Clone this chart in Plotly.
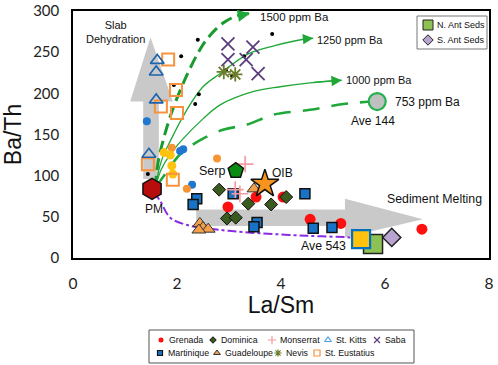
import plotly.graph_objects as go

# ---------------- data ----------------
grenada_x = [2.98, 3.52, 4.04, 4.56, 5.15, 6.71]
grenada_y = [62, 74, 74, 47, 42, 35]
dominica_x = [2.81, 3.37, 3.81, 2.96, 3.13, 4.10]
dominica_y = [83, 66, 65, 48, 49, 74]
monserrat_x = [3.31, 3.12, 3.21]
monserrat_y = [114, 83, 78]
stkitts_x = [1.62, 1.60, 1.60, 1.46]
stkitts_y = [240, 226, 192, 126]
saba_x = [2.98, 3.46, 2.98, 3.33, 3.56]
saba_y = [260, 256, 241, 241, 224]
martinique_x = [2.38, 2.31, 3.08, 3.54, 3.48, 4.46, 4.62, 4.98]
martinique_y = [72, 65, 78, 43, 38, 78, 36, 37]
guadeloupe_x = [2.44, 2.50, 2.60, 2.42, 3.48]
guadeloupe_y = [42, 37, 35, 34, 84]
nevis_x = [2.90, 3.12]
nevis_y = [226, 223]
steust_x = [1.83, 1.98, 1.69, 2.00, 1.44, 1.92]
steust_y = [241, 204, 184, 176, 114, 95]

black_x = [1.44, 1.94, 2.08, 2.35, 2.42, 2.40, 2.94, 3.06, 3.29, 3.83]
black_y = [102, 210, 245, 187, 199, 265, 228, 221, 245, 272]
blue_x = [1.42, 2.12, 2.06, 2.29]
blue_y = [166, 132, 130, 89]
orange_x = [1.90, 2.19, 2.77]
orange_y = [134, 84, 121]
yellow_x = [1.75, 1.87, 1.90, 1.92]
yellow_y = [128, 125, 112, 102]

pm_x, pm_y = [1.52], [84]
serp_x, serp_y = [3.13], [106]
oib_x, oib_y = [3.69], [90]
ave144_x, ave144_y = [5.85], [190]
ave543_x, ave543_y = [5.54], [23]
nant_x, nant_y = [5.77], [17]
sant_x, sant_y = [6.13], [25]

# mixing curves
c1500_x = [1.58, 1.63, 1.73, 1.92, 2.19, 2.44, 2.63, 2.90, 3.15, 3.40]
c1500_y = [85, 114, 142, 181, 222, 253, 270, 286, 294, 297]
c1250_x = [1.58, 1.70, 1.87, 2.19, 2.50, 2.83, 3.37, 3.88, 4.46, 4.62]
c1250_y = [85, 118, 142, 180, 208, 224, 248, 258, 266, 267]
c1000_x = [1.58, 1.70, 1.87, 2.12, 2.50, 2.83, 3.46, 3.98, 4.60, 5.17]
c1000_y = [85, 108, 126, 145, 169, 186, 202, 208, 213, 216]
c753_x = [1.58, 1.75, 2.06, 2.31, 2.50, 2.90, 3.35, 3.85, 4.56, 5.20, 5.72]
c753_y = [85, 100, 126, 138, 145, 156, 162, 174, 180, 187, 190]
csed_x = [1.55, 1.67, 1.87, 2.20, 2.58, 3.00, 3.60, 4.50, 5.33, 5.50]
csed_y = [80, 70, 49, 40, 36, 33, 30, 27, 25, 24]

legend_names = ["Grenada", "Dominica", "Monserrat", "St. Kitts", "Saba",
                "Martinique", "Guadeloupe", "Nevis", "St. Eustatius"]

# ---------------- styles ----------------
LABEL_FONT = "Liberation Sans, Arial, sans-serif"
GREEN = "#1fa838"
styles = {
    "Grenada": dict(symbol="circle", color="#ff1010", size=11, line=dict(width=0)),
    "Dominica": dict(symbol="diamond", color="#3b5a1f", size=10, line=dict(width=1, color="#111")),
    "Monserrat": dict(symbol="cross-thin-open", color="#f39aa2", size=12, line=dict(width=1.6, color="#f39aa2")),
    "St. Kitts": dict(symbol="triangle-up-open", color="#1c64ad", size=12, line=dict(width=1.6, color="#1c64ad")),
    "Saba": dict(symbol="x-thin-open", color="#5b3f7d", size=13, line=dict(width=1.8, color="#5b3f7d")),
    "Martinique": dict(symbol="square", color="#1873c6", size=10, line=dict(width=1.5, color="#111")),
    "Guadeloupe": dict(symbol="triangle-up", color="#f4a04a", size=12, line=dict(width=1, color="#333")),
    "Nevis": dict(symbol="asterisk-open", color="#6b7d2b", size=12, line=dict(width=1.8, color="#6b7d2b")),
    "St. Eustatius": dict(symbol="square-open", color="#f7933c", size=12, line=dict(width=2, color="#f7933c")),
}
series = {
    "Grenada": (grenada_x, grenada_y), "Dominica": (dominica_x, dominica_y),
    "Monserrat": (monserrat_x, monserrat_y), "St. Kitts": (stkitts_x, stkitts_y),
    "Saba": (saba_x, saba_y), "Martinique": (martinique_x, martinique_y),
    "Guadeloupe": (guadeloupe_x, guadeloupe_y), "Nevis": (nevis_x, nevis_y),
    "St. Eustatius": (steust_x, steust_y),
}

TOP = 11  # top margin in px
fig = go.Figure()

# gray process arrows
GRAY = "#c9c9c9"
fig.add_shape(type="path", xref="x", yref="y", layer="below", line=dict(width=0), fillcolor=GRAY,
              path="M 1.35 96 L 1.35 190 L 1.10 190 L 1.49 268 L 1.92 190 L 1.65 190 L 1.65 96 Z")
fig.add_shape(type="path", xref="x", yref="y", layer="below", line=dict(width=0), fillcolor=GRAY,
              path="M 2.37 59 L 5.23 59 L 5.23 72 L 6.73 47 L 5.23 25 L 5.23 39 L 2.37 39 Z")

# curves
fig.add_trace(go.Scatter(x=c753_x, y=c753_y, mode="lines", showlegend=False, hoverinfo="skip",
                         line=dict(color=GREEN, width=2.6, dash="17px,12px", shape="spline")))
fig.add_trace(go.Scatter(x=c1000_x, y=c1000_y, mode="lines", showlegend=False, hoverinfo="skip",
                         line=dict(color=GREEN, width=1.3, shape="spline")))
fig.add_trace(go.Scatter(x=c1250_x, y=c1250_y, mode="lines", showlegend=False, hoverinfo="skip",
                         line=dict(color=GREEN, width=1.3, shape="spline")))
fig.add_trace(go.Scatter(x=c1500_x, y=c1500_y, mode="lines", showlegend=False, hoverinfo="skip",
                         line=dict(color="#1a9a2e", width=3, dash="12px,6px", shape="spline")))
fig.add_trace(go.Scatter(x=csed_x, y=csed_y, mode="lines", showlegend=False, hoverinfo="skip",
                         line=dict(color="#8a2be2", width=2, dash="dashdot", shape="spline")))

for cx, cy, w in [(c1500_x, c1500_y, 2.2), (c1250_x, c1250_y, 1.3), (c1000_x, c1000_y, 1.3)]:
    fig.add_annotation(x=cx[-1], y=cy[-1], ax=cx[-2], ay=cy[-2], xref="x", yref="y", axref="x", ayref="y",
                       text="", showarrow=True, arrowhead=2, arrowsize=1.6 if w < 2 else 1.1,
                       arrowwidth=w, arrowcolor=GREEN)

# small unlabeled points
fig.add_trace(go.Scatter(x=black_x, y=black_y, mode="markers", showlegend=False,
                         marker=dict(color="black", size=4)))
fig.add_trace(go.Scatter(x=blue_x, y=blue_y, mode="markers", showlegend=False,
                         marker=dict(color="#1f77d0", size=8)))
fig.add_trace(go.Scatter(x=orange_x, y=orange_y, mode="markers", showlegend=False,
                         marker=dict(color="#f79433", size=8)))
fig.add_trace(go.Scatter(x=yellow_x, y=yellow_y, mode="markers", showlegend=False,
                         marker=dict(color="#ffc20e", size=9)))

# island series
for name in ["St. Eustatius", "St. Kitts", "Saba", "Nevis", "Grenada", "Dominica",
             "Martinique", "Monserrat", "Guadeloupe"]:
    xs, ys = series[name]
    fig.add_trace(go.Scatter(x=xs, y=ys, mode="markers", name=name, showlegend=False,
                             marker=styles[name]))

# reference compositions
fig.add_trace(go.Scatter(x=pm_x, y=pm_y, mode="markers", showlegend=False,
                         marker=dict(symbol="hexagon", size=21, color="#b80d0d", line=dict(width=1.5, color="#111"))))
fig.add_trace(go.Scatter(x=serp_x, y=serp_y, mode="markers", showlegend=False,
                         marker=dict(symbol="pentagon", size=16, color="#0a8c12", line=dict(width=1.5, color="#111"))))
fig.add_trace(go.Scatter(x=oib_x, y=oib_y, mode="markers", showlegend=False,
                         marker=dict(symbol="star", size=21, color="#f7941d", line=dict(width=1.5, color="#111"))))
fig.add_trace(go.Scatter(x=ave144_x, y=ave144_y, mode="markers", showlegend=False,
                         marker=dict(symbol="circle", size=17, color="#c0c0c0", line=dict(width=2.2, color="#22b14c"))))
fig.add_trace(go.Scatter(x=nant_x, y=nant_y, mode="markers", name="N. Ant Seds", showlegend=False,
                         marker=dict(symbol="square", size=19, color="#8dc153", line=dict(width=1.5, color="#222"))))
fig.add_trace(go.Scatter(x=ave543_x, y=ave543_y, mode="markers", showlegend=False,
                         marker=dict(symbol="square", size=18, color="#ffc20e", line=dict(width=2.2, color="#0070c0"))))
fig.add_trace(go.Scatter(x=sant_x, y=sant_y, mode="markers", name="S. Ant Seds", showlegend=False,
                         marker=dict(symbol="diamond", size=14, color="#b9a3d0", line=dict(width=1.5, color="#222"))))

# text labels in the chart
labels = [
    ("Slab<br>Dehydration", 0.81, 275, 11, "center"),
    ("1500 ppm Ba", 3.56, 293, 11.5, "left"),
    ("1250 ppm Ba", 4.65, 265, 11, "left"),
    ("1000 ppm Ba", 5.22, 216, 11, "left"),
    ("753 ppm Ba", 6.15, 190, 12, "left"),
    ("Ave 144", 5.77, 166, 12, "center"),
    ("Serp", 2.67, 106, 12.5, "center"),
    ("OIB", 4.02, 103, 12, "center"),
    ("PM", 1.56, 60, 12, "center"),
    ("Sediment Melting", 6.96, 72, 12.3, "center"),
    ("Ave 543", 4.81, 14, 12.3, "center"),
]
for t, x, y, s, al in labels:
    fig.add_annotation(x=x, y=y, xref="x", yref="y", text=t, showarrow=False, xanchor=al,
                       font=dict(family=LABEL_FONT, size=s, color="#111"), align="center")

# ---------------- legends drawn in a pixel-space subplot ----------------
key_tr = [("N. Ant Seds", 428, 25, dict(symbol="square", size=10, color="#8dc153", line=dict(width=1, color="#222"))),
          ("S. Ant Seds", 428, 40, dict(symbol="diamond", size=8, color="#b9a3d0", line=dict(width=1, color="#222")))]
fig.add_shape(type="rect", xref="x2", yref="y2", x0=417, x1=487, y0=16, y1=49,
              line=dict(color="#777", width=1), fillcolor="white", layer="below")
for t, px, py, mk in key_tr:
    fig.add_trace(go.Scatter(x=[px], y=[py], mode="markers", xaxis="x2", yaxis="y2",
                             showlegend=False, hoverinfo="skip", marker=mk))
    fig.add_annotation(x=435, y=py, xref="x2", yref="y2", text=t, showarrow=False, xanchor="left",
                       font=dict(family=LABEL_FONT, size=9, color="#111"))

key_pos = {
    "Grenada": (161, 340), "Dominica": (213, 340), "Monserrat": (272, 340), "St. Kitts": (328, 340),
    "Saba": (377, 340), "Martinique": (160, 353), "Guadeloupe": (217, 353), "Nevis": (278, 353),
    "St. Eustatius": (317, 353),
}
key_colors = {"St. Kitts": "#4aa3df"}
fig.add_shape(type="rect", xref="x2", yref="y2", x0=149, x1=414, y0=330, y1=363,
              line=dict(color="#555", width=1), fillcolor="white", layer="below")
for name in legend_names:
    px, py = key_pos[name]
    st = dict(styles[name])
    st["size"] = max(5, int(st["size"] * 0.5))
    if "line" in st and st["line"].get("width", 0) > 1.2:
        st["line"] = dict(st["line"], width=1.2)
    if name in key_colors:
        st["color"] = key_colors[name]
        st["line"] = dict(st["line"], color=key_colors[name])
    fig.add_trace(go.Scatter(x=[px], y=[py], mode="markers", xaxis="x2", yaxis="y2",
                             showlegend=False, hoverinfo="skip", marker=st))
    fig.add_annotation(x=px + 6, y=py, xref="x2", yref="y2", text=name, showarrow=False, xanchor="left",
                       font=dict(family=LABEL_FONT, size=8.8, color="#111"))

plot_h = 365 - TOP
fig.update_layout(
    width=498, height=365,
    margin=dict(l=73, r=9, t=TOP, b=0, autoexpand=False),
    paper_bgcolor="white", plot_bgcolor="rgba(0,0,0,0)",
    showlegend=False,
    xaxis=dict(range=[0, 8], dtick=2, domain=[0, 1], showgrid=False, zeroline=False, automargin=False,
               showline=True, mirror=True, linecolor="black", linewidth=1.5, ticks="",
               ticklabelstandoff=11, ticklabeloverflow="allow",
               tickfont=dict(family="Lato", size=15.5, color="#222"),
               title=dict(text="La/Sm", font=dict(family=LABEL_FONT, size=23, color="#111"), standoff=1)),
    yaxis=dict(range=[0, 300], dtick=50, domain=[(365 - 258) / plot_h, 1], showgrid=False, zeroline=False,
               automargin=False, showline=True, mirror=True, linecolor="black", linewidth=1.5, ticks="",
               ticklabelstandoff=9, ticklabeloverflow="allow",
               tickfont=dict(family="Lato", size=15, color="#222"),
               title=dict(text="Ba/Th", font=dict(family=LABEL_FONT, size=23, color="#111"), standoff=11)),
    xaxis2=dict(range=[73, 489], domain=[0, 1], visible=False, fixedrange=True, automargin=False),
    yaxis2=dict(range=[365, TOP], domain=[0, 1], visible=False, fixedrange=True, anchor="x2", automargin=False),
)

fig.write_html("out.html", config={"displayModeBar": False},
               post_script="document.body.style.margin='0';")
